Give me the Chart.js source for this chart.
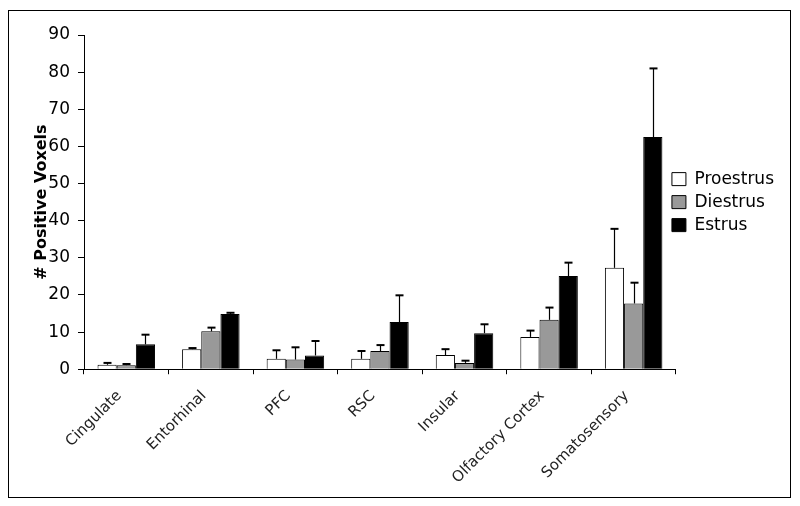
<!DOCTYPE html>
<html>
<head>
<meta charset="utf-8">
<script src="https://cdn.jsdelivr.net/npm/chart.js"></script>
<style>
    html, body { margin: 0; padding: 0; background: #fff; }
    #frame {
        position: absolute;
        left: 8px; top: 10px;
        width: 781px; height: 486px;
        border: 1px solid #000;
    }
    #chart { display: block; }
</style>
</head>
<body>
<div id="frame"><canvas id="chart" width="781" height="486"></canvas></div>
<script>
// Regions and group means / upper error (SEM)
const regions = ['Cingulate', 'Entorhinal', 'PFC', 'RSC', 'Insular', 'Olfactory Cortex', 'Somatosensory'];
const proestrus = [1.2, 5.4, 2.8, 2.8, 3.8, 8.7, 27.3];
const proestrusErr = [0.5, 0.3, 2.3, 2.1, 1.6, 1.7, 10.5];
const diestrus = [1.1, 10.2, 2.6, 4.9, 1.7, 13.3, 17.7];
const diestrusErr = [0.3, 1.0, 3.3, 1.6, 0.6, 3.3, 5.6];
const estrus = [6.7, 14.9, 3.7, 12.7, 9.7, 25.1, 62.5];
const estrusErr = [2.6, 0.3, 3.9, 7.2, 2.4, 3.6, 18.5];
const yTicks = [0, 10, 20, 30, 40, 50, 60, 70, 80, 90];

// Draws upper error bars with caps on top of each bar
const errorBarPlugin = {
    id: 'errorBars',
    afterDatasetsDraw(chart) {
        const ctx = chart.ctx;
        const yScale = chart.scales.y;
        ctx.save();
        ctx.strokeStyle = '#000';
        chart.data.datasets.forEach((ds, i) => {
            const meta = chart.getDatasetMeta(i);
            meta.data.forEach((bar, j) => {
                const x = Math.round(bar.x) + 0.5;
                const yTop = yScale.getPixelForValue(ds.data[j] + ds.errors[j]);
                const yBar = yScale.getPixelForValue(ds.data[j]);
                ctx.lineWidth = 1.2;
                ctx.beginPath();
                ctx.moveTo(x, yBar);
                ctx.lineTo(x, yTop);
                ctx.stroke();
                ctx.lineWidth = 2;
                ctx.beginPath();
                ctx.moveTo(x - 4, yTop);
                ctx.lineTo(x + 4, yTop);
                ctx.stroke();
            });
        });
        ctx.restore();
    }
};

// The legend sits slightly into the plot's right margin in the original
const legendShiftPlugin = {
    id: 'legendShift',
    afterLayout(chart) {
        chart.legend.left -= 10;
        chart.legend.right -= 10;
    }
};

const font = "'DejaVu Sans', Verdana, sans-serif";

new Chart(document.getElementById('chart'), {
    type: 'bar',
    data: {
        labels: regions,
        datasets: [
            { label: 'Proestrus', data: proestrus, errors: proestrusErr, backgroundColor: '#ffffff', borderColor: '#000', borderWidth: 1 },
            { label: 'Diestrus', data: diestrus, errors: diestrusErr, backgroundColor: '#999999', borderColor: '#000', borderWidth: 1 },
            { label: 'Estrus', data: estrus, errors: estrusErr, backgroundColor: '#000000', borderColor: '#000', borderWidth: 1 }
        ]
    },
    options: {
        responsive: false,
        animation: false,
        layout: { padding: { top: 24, right: -4, bottom: -3, left: 23 } },
        datasets: { bar: { categoryPercentage: 0.68, barPercentage: 1.0 } },
        plugins: {
            legend: {
                position: 'right',
                align: 'center',
                fullSize: false,
                labels: {
                    boxWidth: 14,
                    boxHeight: 13,
                    padding: 6,
                    color: '#000',
                    font: { family: font, size: 17 }
                }
            },
            tooltip: { enabled: false }
        },
        scales: {
            x: {
                grid: { display: true, offset: true, drawOnChartArea: false, tickLength: 5, color: '#000' },
                border: { color: '#000' },
                ticks: {
                    color: '#222',
                    font: { family: font, size: 15 },
                    maxRotation: 45,
                    minRotation: 45,
                    padding: 13,
                    labelOffset: -7
                }
            },
            y: {
                min: 0,
                max: 90,
                afterBuildTicks(axis) {
                    axis.ticks = yTicks.map(v => ({ value: v }));
                },
                afterFit(axis) {
                    axis.width = 52;
                },
                grid: { display: true, drawOnChartArea: false, tickLength: 6, color: '#000' },
                border: { color: '#000' },
                ticks: {
                    color: '#000',
                    font: { family: font, size: 17 },
                    padding: 8
                },
                title: {
                    display: true,
                    text: '# Positive Voxels',
                    color: '#000',
                    font: { family: font, size: 16, weight: 'bold' },
                    padding: { top: 0, bottom: 0 }
                }
            }
        }
    },
    plugins: [errorBarPlugin, legendShiftPlugin]
});
</script>
</body>
</html>
